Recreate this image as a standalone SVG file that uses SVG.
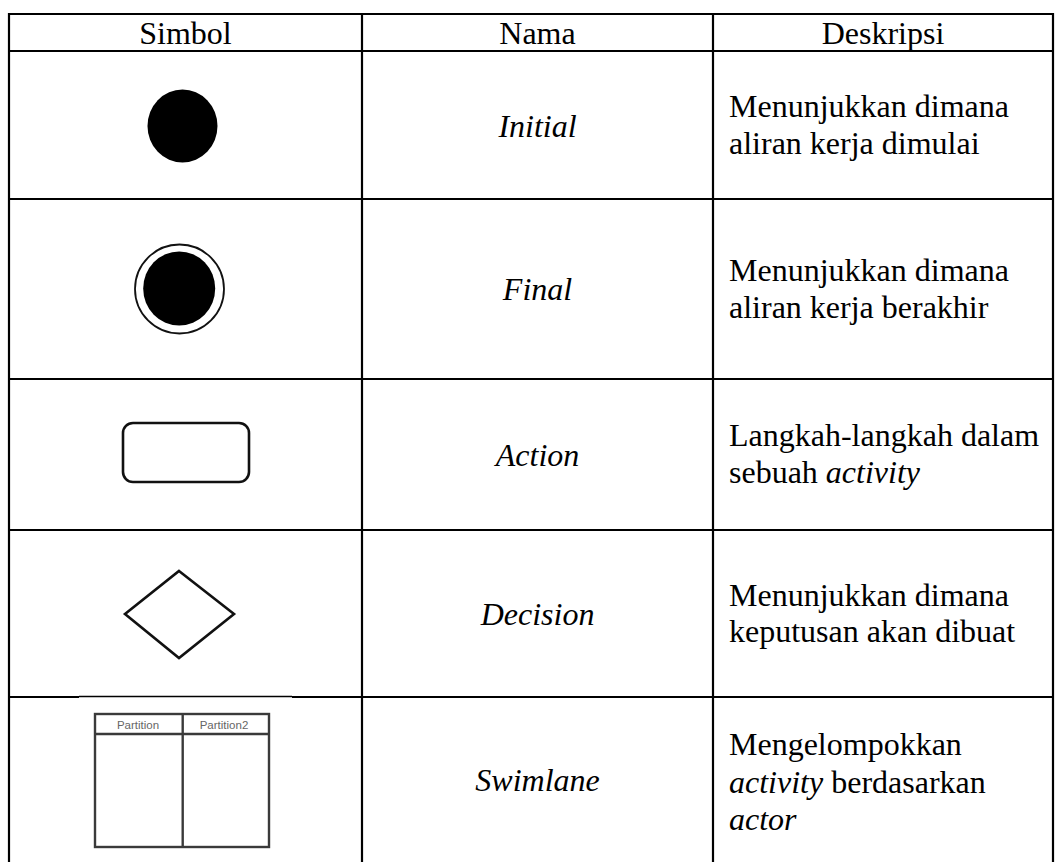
<svg xmlns="http://www.w3.org/2000/svg" width="1056" height="862" viewBox="0 0 1056 862">
<style>
.grid{stroke:#000;stroke-width:2.2;fill:none}
.t{font-family:"Liberation Serif","Times New Roman",serif;font-size:32px;fill:#000}
.c{text-anchor:middle}
.i{font-style:italic}
.sym{fill:none;stroke:#111;stroke-width:2.6}
.sw{fill:none;stroke:#3a3a3a;stroke-width:2.4}
.pt{font-family:"Liberation Sans",Arial,sans-serif;font-size:11.5px;fill:#666;text-anchor:middle}
</style>
<defs>
<clipPath id="clipTop"><rect x="0" y="89" width="400" height="200"/></clipPath>
</defs>
<rect width="1056" height="862" fill="#fff"/>
<g id="table">
<line class="grid" x1="9" y1="14" x2="1053" y2="14"/>
<line class="grid" x1="9" y1="51" x2="1053" y2="51"/>
<line class="grid" x1="9" y1="199" x2="1053" y2="199"/>
<line class="grid" x1="9" y1="379" x2="1053" y2="379"/>
<line class="grid" x1="9" y1="530" x2="1053" y2="530"/>
<line class="grid" x1="9" y1="697" x2="79" y2="697"/>
<line x1="79" y1="696.5" x2="292" y2="696.5" stroke="#000" stroke-width="1.6"/>
<line class="grid" x1="292" y1="697" x2="1053" y2="697"/>
<line class="grid" x1="9" y1="13" x2="9" y2="862"/>
<line class="grid" x1="362" y1="13" x2="362" y2="862"/>
<line class="grid" x1="713" y1="13" x2="713" y2="862"/>
<line class="grid" x1="1053" y1="13" x2="1053" y2="862"/>
<text class="t c" x="185.5" y="44">Simbol</text>
<text class="t c" x="537.5" y="44">Nama</text>
<text class="t c" x="883" y="44">Deskripsi</text>
</g>
<g id="initial">
<ellipse cx="182.5" cy="126" rx="35" ry="36.5" fill="#000" clip-path="url(#clipTop)"/>
<text class="t c i" x="537.5" y="137">Initial</text>
<text class="t" x="729" y="117">Menunjukkan dimana</text>
<text class="t" x="729" y="154">aliran kerja dimulai</text>
</g>
<g id="final">
<circle cx="179.5" cy="289" r="44.5" fill="none" stroke="#111" stroke-width="1.8"/>
<ellipse cx="179.2" cy="288.5" rx="36" ry="37" fill="#000"/>
<text class="t c i" x="537.5" y="300">Final</text>
<text class="t" x="729" y="281">Menunjukkan dimana</text>
<text class="t" x="729" y="318">aliran kerja berakhir</text>
</g>
<g id="action">
<rect class="sym" x="123" y="423" width="126" height="59" rx="10"/>
<text class="t c i" x="537.5" y="466">Action</text>
<text class="t" x="729" y="446">Langkah-langkah dalam</text>
<text class="t" x="729" y="483">sebuah <tspan class="i">activity</tspan></text>
</g>
<g id="decision">
<polygon class="sym" points="179,571 234,614 179,658 125,614"/>
<text class="t c i" x="537.5" y="625">Decision</text>
<text class="t" x="729" y="606">Menunjukkan dimana</text>
<text class="t" x="729" y="642">keputusan akan dibuat</text>
</g>
<g id="swimlane">
<rect class="sw" x="95" y="714" width="174" height="133"/>
<line class="sw" x1="95" y1="734" x2="269" y2="734" stroke-width="3.2"/>
<line class="sw" x1="182.7" y1="714" x2="182.7" y2="847" stroke-width="3"/>
<text class="pt" x="138" y="729">Partition</text>
<text class="pt" x="224" y="729">Partition2</text>
<text class="t c i" x="537.5" y="791">Swimlane</text>
<text class="t" x="729" y="755">Mengelompokkan</text>
<text class="t" x="729" y="793"><tspan class="i">activity</tspan> berdasarkan</text>
<text class="t" x="729" y="830"><tspan class="i">actor</tspan></text>
</g>
<g id="connectors"/>
</svg>
